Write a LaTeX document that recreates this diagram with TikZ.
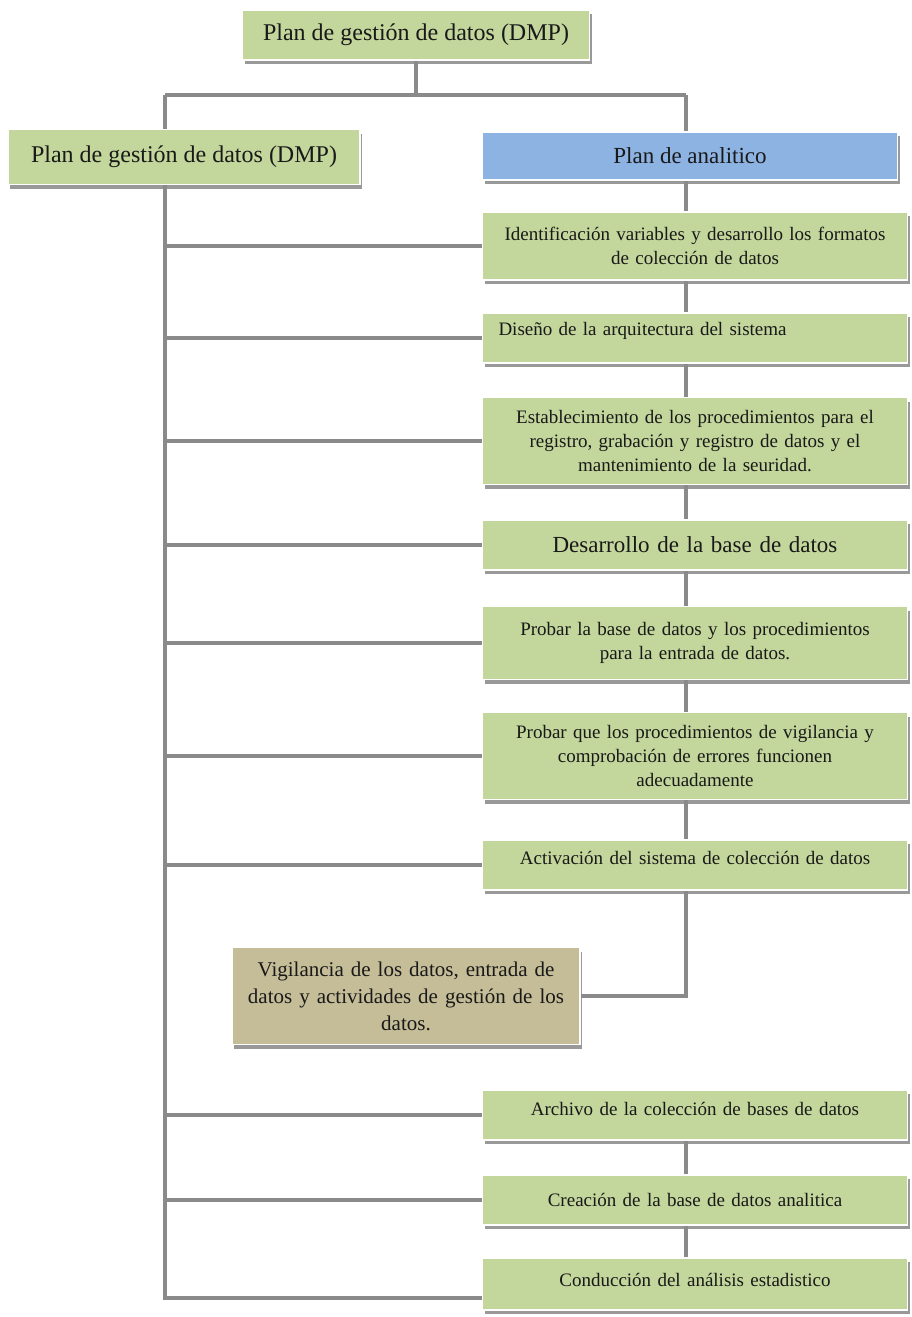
\documentclass[tikz,border=0pt]{standalone}
\usepackage{fontspec}
\setmainfont{Liberation Serif}
\usepackage{xcolor}
\usepackage{tikz}
\usetikzlibrary{positioning, shadows}
\definecolor{boxgreen}{HTML}{C3D69B}
\definecolor{boxblue}{HTML}{8DB3E2}
\definecolor{boxtan}{HTML}{C4BD97}
\definecolor{linegray}{HTML}{8A8A8A}
\tikzset{
  box/.style={rectangle, draw=white, line width=1.5pt, fill=boxgreen, align=center, inner sep=4pt, text=black!90,
    font=\fontsize{19}{24}\selectfont, drop shadow={shadow xshift=2pt, shadow yshift=-4pt, fill=black!40, opacity=1}},
  stepbox/.style={box, minimum width=425pt, text width=405pt},
  conn/.style={draw=linegray, line width=4pt},
}

\begin{document}
\begin{tikzpicture}[x=1pt, y=-1pt]
    \useasboundingbox (0,0) rectangle (912,1317);
    % cabecera
    \node[box, minimum width=347pt, minimum height=50pt, font=\fontsize{24}{28}\selectfont] (top) at (416,35) {Plan de gestión de datos (DMP)};
    \node[box, minimum width=352pt, minimum height=55pt, font=\fontsize{24}{28}\selectfont] (dmp) at (184,157) {Plan de gestión de datos (DMP)};
    \node[box, fill=boxblue, minimum width=415pt, minimum height=48pt, font=\fontsize{23}{28}\selectfont] (analitico) at (690,156) {Plan de analitico};
    % pasos
    \node[stepbox, minimum height=68pt] (ident) at (695,246) {Identificación variables y desarrollo los formatos\\ de colección de datos};
    \node[stepbox, minimum height=50pt, align=left, inner xsep=16pt, text width=393pt, text depth=18pt] (diseno) at (695,338) {Diseño de la arquitectura del sistema};
    \node[stepbox, minimum height=87pt] (estab) at (695,441) {Establecimiento de los procedimientos para el\\ registro, grabación y registro de datos y el\\ mantenimiento de la seuridad.};
    \node[stepbox, minimum height=50pt, font=\fontsize{23}{28}\selectfont] (desarr) at (695,545) {Desarrollo de la base de datos};
    \node[stepbox, minimum height=73pt] (probbase) at (695,643) {Probar la base de datos y los procedimientos\\ para la entrada de datos.};
    \node[stepbox, minimum height=87pt] (probvig) at (695,756) {Probar que los procedimientos de vigilancia y\\ comprobación de errores funcionen\\ adecuadamente};
    \node[stepbox, minimum height=50pt, text depth=14pt] (activ) at (695,865) {Activación del sistema de colección de datos};
    \node[box, fill=boxtan, minimum width=348pt, minimum height=97pt, text width=335pt, font=\fontsize{21}{27}\selectfont] (vig) at (406,996) {Vigilancia de los datos, entrada de\\ datos y actividades de gestión de los\\ datos.};
    \node[stepbox, minimum height=50pt, text depth=12pt] (archivo) at (695,1115) {Archivo de la colección de bases de datos};
    \node[stepbox, minimum height=50pt] (creacion) at (695,1200) {Creación de la base de datos analitica};
    \node[stepbox, minimum height=52pt, text depth=8pt] (conduc) at (695,1284) {Conducción del análisis estadistico};

    % conectores
    \coordinate (tl) at (165,95);
    \coordinate (tr) at (686,95);
    \draw[conn] (top.south) -- (top.south |- tl);
    \draw[conn] (tl) -- (tr);
    \draw[conn] (tl) -- (tl |- dmp.north);
    \draw[conn] (tr) -- (tr |- analitico.north);
    \coordinate (fin) at ([yshift=-14pt]conduc.west);
    \draw[conn] (tl |- dmp.south) -- (tl |- fin) -- (fin);
    \foreach \n in {ident, diseno, estab, desarr, probbase, probvig, activ, archivo, creacion}
      \draw[conn] (tl |- \n.west) -- (\n.west);
    \foreach \a/\b in {analitico/ident, ident/diseno, diseno/estab, estab/desarr, desarr/probbase, probbase/probvig, probvig/activ, archivo/creacion, creacion/conduc}
      \draw[conn] (tr |- \a.south) -- (tr |- \b.north);
    \draw[conn] (tr |- activ.south) |- (vig.east);
\end{tikzpicture}
\end{document}
